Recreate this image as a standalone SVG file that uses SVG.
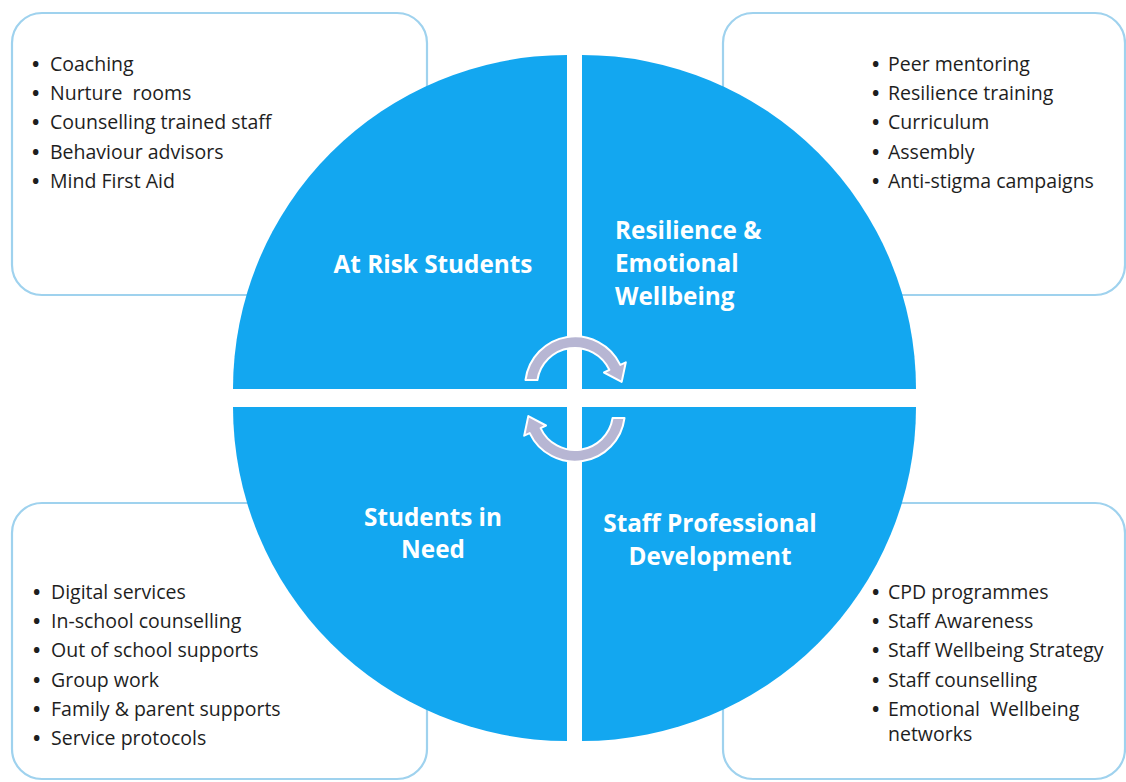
<svg xmlns="http://www.w3.org/2000/svg" width="1126" height="782" viewBox="0 0 1126 782">
<style>
.box{fill:#fff;stroke:#9fd2ee;stroke-width:2.2}
.q{fill:#13a7f0}
.item{font-family:"Open Sans","Noto Sans",sans-serif;font-size:19.5px;fill:#1e1e1e}
.b{font-weight:bold}
.lbl{font-family:"Open Sans","Noto Sans",sans-serif;font-size:24.3px;font-weight:bold;fill:#fff}
.arr{fill:#b7b6d3;stroke:#ffffff;stroke-width:2;stroke-linejoin:round}
</style>
<rect width="1126" height="782" fill="#fff"/>
<g id="box-at-risk">
<rect class="box" x="12" y="13" width="415" height="282" rx="30"/>
<text class="item"><tspan class="b" x="32" y="71">•</tspan><tspan x="50" y="71">Coaching</tspan><tspan class="b" x="32" y="100">•</tspan><tspan x="50" y="100" xml:space="preserve">Nurture  rooms</tspan><tspan class="b" x="32" y="129">•</tspan><tspan x="50" y="129">Counselling trained staff</tspan><tspan class="b" x="32" y="159">•</tspan><tspan x="50" y="159">Behaviour advisors</tspan><tspan class="b" x="32" y="188">•</tspan><tspan x="50" y="188">Mind First Aid</tspan></text>
</g>
<g id="box-resilience">
<rect class="box" x="723" y="13" width="402" height="282" rx="30"/>
<text class="item"><tspan class="b" x="872" y="71">•</tspan><tspan x="888" y="71">Peer mentoring</tspan><tspan class="b" x="872" y="100">•</tspan><tspan x="888" y="100">Resilience training</tspan><tspan class="b" x="872" y="129">•</tspan><tspan x="888" y="129">Curriculum</tspan><tspan class="b" x="872" y="159">•</tspan><tspan x="888" y="159">Assembly</tspan><tspan class="b" x="872" y="188">•</tspan><tspan x="888" y="188">Anti-stigma campaigns</tspan></text>
</g>
<g id="box-in-need">
<rect class="box" x="12" y="503" width="415" height="276" rx="30"/>
<text class="item"><tspan class="b" x="33" y="599">•</tspan><tspan x="51" y="599">Digital services</tspan><tspan class="b" x="33" y="628">•</tspan><tspan x="51" y="628">In-school counselling</tspan><tspan class="b" x="33" y="657">•</tspan><tspan x="51" y="657">Out of school supports</tspan><tspan class="b" x="33" y="687">•</tspan><tspan x="51" y="687">Group work</tspan><tspan class="b" x="33" y="716">•</tspan><tspan x="51" y="716">Family &amp; parent supports</tspan><tspan class="b" x="33" y="745">•</tspan><tspan x="51" y="745">Service protocols</tspan></text>
</g>
<g id="box-staff">
<rect class="box" x="723" y="503" width="402" height="276" rx="30"/>
<text class="item"><tspan class="b" x="872" y="599">•</tspan><tspan x="888" y="599">CPD programmes</tspan><tspan class="b" x="872" y="628">•</tspan><tspan x="888" y="628">Staff Awareness</tspan><tspan class="b" x="872" y="657">•</tspan><tspan x="888" y="657">Staff Wellbeing Strategy</tspan><tspan class="b" x="872" y="687">•</tspan><tspan x="888" y="687">Staff counselling</tspan><tspan class="b" x="872" y="716">•</tspan><tspan x="888" y="716" xml:space="preserve">Emotional  Wellbeing</tspan><tspan x="888" y="741">networks</tspan></text>
</g>
<g id="q-at-risk">
<path class="q" d="M567,389 L233,389 A334,334 0 0 1 567,55 Z"/>
<text class="lbl" x="433" y="273" text-anchor="middle">At Risk Students</text>
</g>
<g id="q-resilience">
<path class="q" d="M582,389 L582,55 A334,334 0 0 1 916,389 Z"/>
<text class="lbl"><tspan x="615" y="239">Resilience &amp;</tspan><tspan x="615" y="272">Emotional</tspan><tspan x="615" y="305">Wellbeing</tspan></text>
</g>
<g id="q-in-need">
<path class="q" d="M567,407 L567,741 A334,334 0 0 1 233,407 Z"/>
<text class="lbl" text-anchor="middle"><tspan x="433" y="526">Students in</tspan><tspan x="433" y="558">Need</tspan></text>
</g>
<g id="q-staff">
<path class="q" d="M582,407 L916,407 A334,334 0 0 1 582,741 Z"/>
<text class="lbl" text-anchor="middle"><tspan x="710" y="532">Staff Professional</tspan><tspan x="710" y="565">Development</tspan></text>
</g>
<g id="connectors">
<path id="arrow-top" class="arr" d="M525.5,380 A50,50 0 0 1 620.3,364.9 L625.8,362.3 L621.7,381.9 L604,372.5 L609.4,369.9 A38,38 0 0 0 537.4,380 Z"/>
<use href="#arrow-top" transform="rotate(180 575 399)"/>
</g>
</svg>
